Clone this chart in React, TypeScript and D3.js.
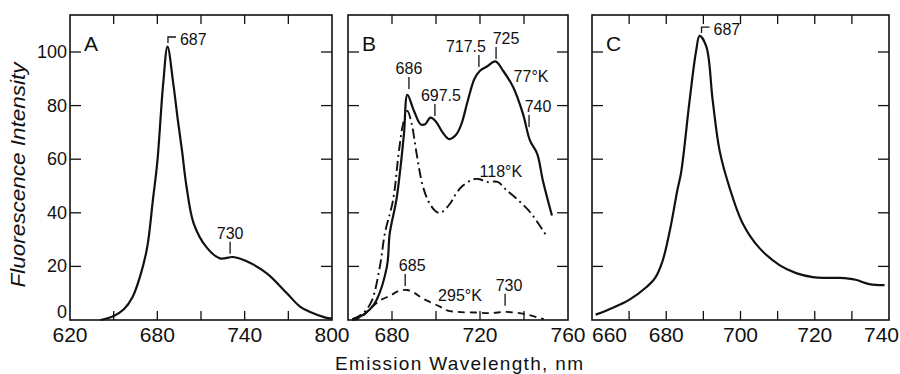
import * as d3 from 'd3';

// ---- data (wavelength in nm, relative fluorescence intensity) ----
const A_NM = [641, 650, 657, 663, 668, 673, 677, 680, 684, 687, 691, 694, 697, 700, 705, 714, 723, 732, 741, 755, 769, 778, 785, 795, 800];
const A_VAL = [0, 1.5, 4, 8.6, 16, 27, 45, 59, 88, 102, 88, 75, 63, 50, 36, 27, 23, 23.5, 22, 17.5, 10, 5, 3, 1, 0.5];

const B77_NM = [662, 666, 670, 673, 677.7, 679, 682, 684, 685.5, 687, 690, 693, 695, 697.5, 700, 703, 706, 709, 711.5, 714.5, 717.5, 720, 723, 727, 730.5, 735, 739.5, 742.7, 746, 748.6, 752.7];
const B77_VAL = [0.3, 1.5, 4, 7.5, 20, 32.5, 44.8, 58, 70, 84, 78, 73, 73, 75.5, 74, 70, 67.5, 69, 73, 82, 90, 93, 94.5, 96.5, 93, 87, 77, 67, 62, 52, 39];

const B118_NM = [662, 665, 668, 671, 674.5, 676.8, 680.5, 683, 685, 687, 689, 691, 694, 697, 700, 702, 706, 709, 712, 717, 720, 723, 728, 732, 737, 743, 750.5];
const B118_VAL = [0.3, 1.5, 3.5, 7.5, 20, 32.5, 44.8, 62, 73, 78, 73, 63, 50, 43.6, 40.5, 40, 43, 47, 50, 52.5, 52.5, 51.5, 51.5, 48.5, 45, 40, 31];

const B295_NM = [662, 665.5, 671, 675, 679, 683, 686.8, 690, 694, 701.8, 705, 710, 718, 725, 732, 740, 746, 749];
const B295_VAL = [0, 0.7, 5, 7.5, 9, 10.8, 11.2, 10.2, 8, 5, 3.6, 3, 2.8, 2.6, 3, 2.3, 1, 0.3];

const C_NM = [661, 665.5, 670, 674.7, 677, 679, 681, 683, 684, 686.3, 688, 689, 690.8, 692.5, 694.4, 697, 700.6, 705, 710.5, 715, 719.5, 723, 726.7, 731, 734.7, 738.8];
const C_VAL = [2, 4.5, 7.5, 12.3, 15.7, 22, 33.6, 48.5, 55, 82, 100, 106, 102, 82, 63, 49.6, 36, 27, 20.5, 17.5, 16, 15.7, 15.7, 15, 13.4, 13];

const Y_TICKS = [0, 20, 40, 60, 80, 100];
const A_XLABELS = [620, 680, 740, 800];
const A_XTICKS = [650, 680, 710, 740, 770];
const B_XLABELS = [680, 720, 760];
const B_XTICKS = [680, 700, 720, 740];
const C_XLABELS = [660, 680, 700, 720, 740];
const C_XTICKS = [670, 680, 690, 700, 710, 720, 730];

// peak notes with a vertical tick: label, wavelength, intensity under the tick
const A_NOTES = [{ text: '730', nm: 730, v: 24.3, dx: 0 }];
const B_NOTES = [
  { text: '686', nm: 687.7, v: 85.8, dx: 0 },
  { text: '697.5', nm: 699.5, v: 75.7, dx: 6 },
  { text: '717.5', nm: 719.5, v: 94, dx: -13 },
  { text: '725', nm: 727.3, v: 97, dx: 10 },
  { text: '740', nm: 742.3, v: 71.6, dx: 9 },
  { text: '685', nm: 686, v: 12.3, dx: 7 },
  { text: '730', nm: 731.4, v: 4.9, dx: 4 },
];
const B_TEMPS = [
  { text: '77°K', nm: 743.2, v: 88.8 },
  { text: '118°K', nm: 729.5, v: 53.4 },
  { text: '295°K', nm: 710.9, v: 7.1 },
];
// bracketed peak maxima
const A_PEAK = { text: '687', nm: 687.3, v: 105.6 };
const C_PEAK = { text: '687', nm: 689.5, v: 109.3 };

const FONT = "'Liberation Sans', Arial, sans-serif";
const Y_BOT = 320;
const Y_TOP = 15;

const y = d3.scaleLinear().domain([0, 113.8]).range([Y_BOT, Y_TOP]);

interface Series { nm: number[]; val: number[]; dash?: string; width: number }
interface Note { text: string; nm: number; v: number; dx: number }
interface PanelProps {
  letter: string;
  x0: number;
  x1: number;
  domain: [number, number];
  labels: number[];
  ticks: number[];
  series: Series[];
  notes: Note[];
  temps?: { text: string; nm: number; v: number }[];
  peak?: { text: string; nm: number; v: number };
  yLabels?: boolean;
  firstStart?: boolean;
  lastEnd?: boolean;
}

function Panel(p: PanelProps) {
  const x = d3.scaleLinear().domain(p.domain).range([p.x0, p.x1]);
  const line = d3.line<[number, number]>()
    .x(d => x(d[0]))
    .y(d => y(d[1]))
    .curve(d3.curveCatmullRom.alpha(0.5));
  const tk = 9;
  const last = p.labels.length - 1;

  return (
    <g>
      {p.series.map((s, i) => (
        <path
          key={i}
          d={line(s.nm.map((n, j) => [n, s.val[j]] as [number, number])) ?? ''}
          fill="none"
          stroke="#111"
          strokeWidth={s.width}
          strokeDasharray={s.dash}
          strokeLinejoin="round"
        />
      ))}

      {/* frame */}
      <rect x={p.x0} y={Y_TOP} width={p.x1 - p.x0} height={Y_BOT - Y_TOP} fill="none" stroke="#111" strokeWidth={1.6} />

      {/* inward ticks */}
      {p.ticks.map(t => (
        <g key={t}>
          <line x1={x(t)} x2={x(t)} y1={Y_BOT} y2={Y_BOT - tk} stroke="#111" strokeWidth={1.3} />
          <line x1={x(t)} x2={x(t)} y1={Y_TOP} y2={Y_TOP + tk} stroke="#111" strokeWidth={1.3} />
        </g>
      ))}
      {Y_TICKS.filter(t => t > 0).map(t => (
        <g key={t}>
          <line x1={p.x0} x2={p.x0 + tk + 2} y1={y(t)} y2={y(t)} stroke="#111" strokeWidth={1.3} />
          <line x1={p.x1} x2={p.x1 - tk - 2} y1={y(t)} y2={y(t)} stroke="#111" strokeWidth={1.3} />
        </g>
      ))}

      {/* tick labels */}
      {p.labels.map((t, i) => {
        let anchor = 'middle';
        let dx = 0;
        if (i === 0 && p.firstStart) anchor = 'start';
        if (i === last && p.lastEnd) { anchor = 'end'; dx = 10; }
        return (
          <text key={t} x={x(t) + dx} y={342} textAnchor={anchor} fontSize={21} fontFamily={FONT} fill="#111">
            {t}
          </text>
        );
      })}
      {p.yLabels && Y_TICKS.map(t => (
        <text
          key={t}
          x={p.x0 - 3}
          y={y(t) - (t === 0 ? 8 : 0)}
          textAnchor="end"
          dominantBaseline="central"
          fontSize={18}
          fontFamily={FONT}
          fill="#111"
        >
          {t}
        </text>
      ))}

      {/* panel letter */}
      <text x={p.x0 + 14} y={51} fontSize={21} fontFamily={FONT} fill="#111">{p.letter}</text>

      {/* peak notes */}
      {p.notes.map((n, i) => {
        const top = y(n.v) - 13;
        return (
          <g key={i}>
            <line x1={x(n.nm)} x2={x(n.nm)} y1={y(n.v) - 1} y2={top} stroke="#111" strokeWidth={1.3} />
            <text x={x(n.nm) + n.dx} y={top - 3} textAnchor="middle" fontSize={16} fontFamily={FONT} fill="#111">
              {n.text}
            </text>
          </g>
        );
      })}
      {p.temps?.map(t => (
        <text key={t.text} x={x(t.nm)} y={y(t.v)} textAnchor="middle" fontSize={16} fontFamily={FONT} fill="#111">
          {t.text}
        </text>
      ))}
      {p.peak && (
        <g>
          <path
            d={`M${x(p.peak.nm)},${y(p.peak.v) + 6}V${y(p.peak.v)}H${x(p.peak.nm) + 8}`}
            fill="none"
            stroke="#111"
            strokeWidth={1.3}
          />
          <text x={x(p.peak.nm) + 12} y={y(p.peak.v) + 8} fontSize={16} fontFamily={FONT} fill="#111">
            {p.peak.text}
          </text>
        </g>
      )}
    </g>
  );
}

export default function App() {
  return (
    <svg width={900} height={374} style={{ position: 'absolute', left: 0, top: 0, background: '#fff' }}>
      <Panel
        letter="A"
        x0={70}
        x1={332}
        domain={[620, 800]}
        labels={A_XLABELS}
        ticks={A_XTICKS}
        series={[{ nm: A_NM, val: A_VAL, width: 2.2 }]}
        notes={A_NOTES}
        peak={A_PEAK}
        yLabels
      />
      <Panel
        letter="B"
        x0={348}
        x1={568}
        domain={[660, 760]}
        labels={B_XLABELS}
        ticks={B_XTICKS}
        series={[
          { nm: B77_NM, val: B77_VAL, width: 2.2 },
          { nm: B118_NM, val: B118_VAL, width: 1.9, dash: '10 4 2 4' },
          { nm: B295_NM, val: B295_VAL, width: 1.8, dash: '7 5' },
        ]}
        notes={B_NOTES}
        temps={B_TEMPS}
      />
      <Panel
        letter="C"
        x0={592}
        x1={889}
        domain={[660, 740]}
        labels={C_XLABELS}
        ticks={C_XTICKS}
        series={[{ nm: C_NM, val: C_VAL, width: 2.2 }]}
        notes={[]}
        peak={C_PEAK}
        firstStart
        lastEnd
      />

      {/* axis titles */}
      <text
        transform="translate(25,175) rotate(-90)"
        textAnchor="middle"
        fontSize={21}
        fontStyle="italic"
        fontFamily={FONT}
        fill="#111"
        textLength={225}
        lengthAdjust="spacingAndGlyphs"
      >
        Fluorescence Intensity
      </text>
      <text
        x={459}
        y={370}
        textAnchor="middle"
        fontSize={19}
        fontFamily={FONT}
        fill="#111"
        textLength={248}
        lengthAdjust="spacing"
      >
        Emission Wavelength, nm
      </text>
    </svg>
  );
}
